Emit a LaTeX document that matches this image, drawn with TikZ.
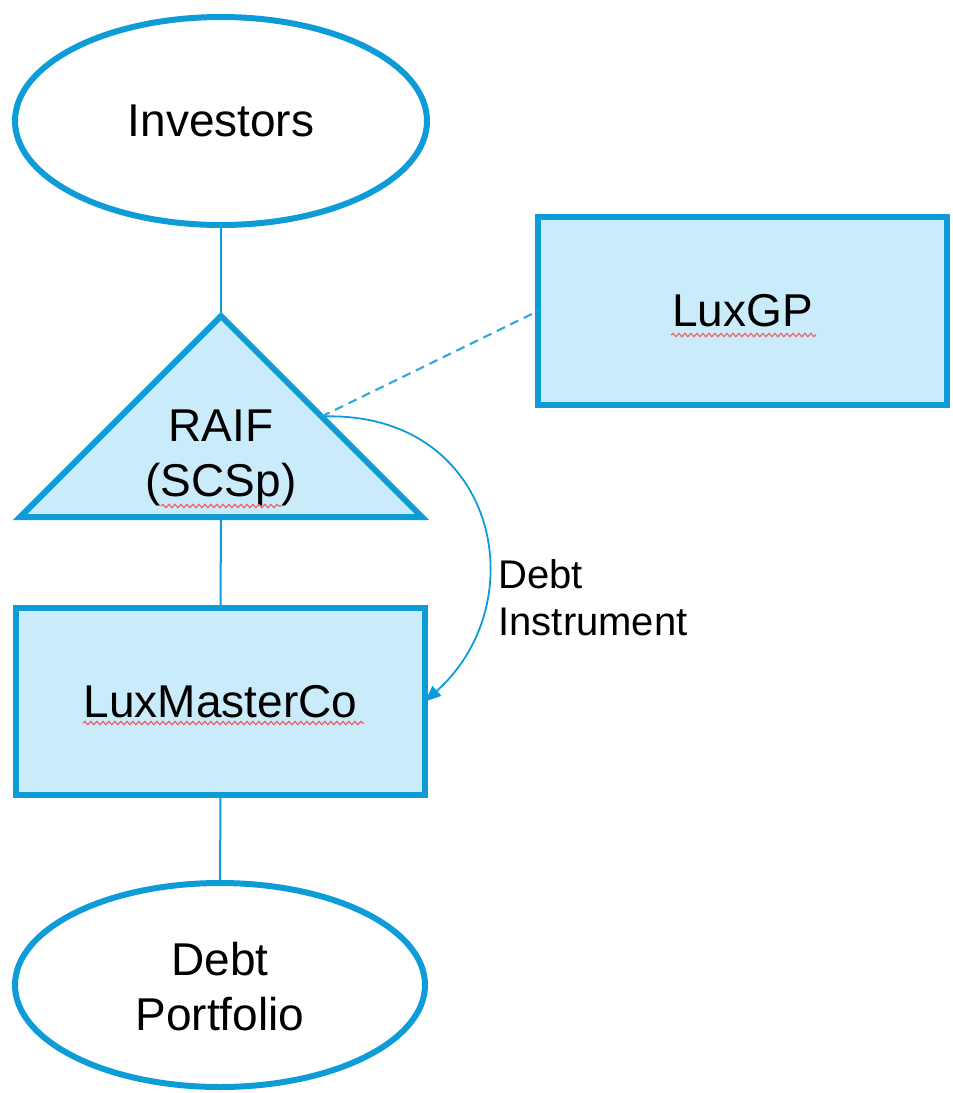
\documentclass[tikz,border=0pt]{standalone}
\usepackage{fontspec}
\setmainfont{Liberation Sans}
\usetikzlibrary{shapes.geometric,arrows.meta,decorations.pathmorphing,calc}
\definecolor{bord}{HTML}{0E9CD8}
\definecolor{fillb}{HTML}{C9EBFA}
\definecolor{squig}{HTML}{F06060}
\tikzset{
  shapeline/.style={draw=bord, line width=6pt, line join=miter},
  oval/.style={shapeline, ellipse, inner sep=0pt, outer sep=0pt, fill=white},
  entbox/.style={shapeline, rectangle, fill=fillb, inner sep=0pt, outer sep=0pt},
  lbl/.style={font=\fontsize{46}{55}\selectfont, align=center, text=black},
  small/.style={font=\fontsize{40}{47}\selectfont, align=left, text=black},
  conn/.style={draw=bord, line width=2pt},
  spell/.style={draw=squig, line width=1.2pt, decorate, decoration={snake, amplitude=1.6pt, segment length=6pt}}
}
\begin{document}
\begin{tikzpicture}[x=1pt,y=-1pt]
\useasboundingbox (0,0) rectangle (953,1093);
% nodes
\node[oval, minimum width=412pt, minimum height=208pt] (inv) at (221,121) {};
\node[lbl] (invt) at (221,121) {Investors};
\node[entbox, minimum width=409pt, minimum height=188pt] (gp) at (742.5,311) {};
\node[lbl] (gpt) at (742.5,311) {LuxGP};
\node[entbox, minimum width=409pt, minimum height=187pt] (mc) at (220.5,701.5) {};
\node[lbl] (mct) at (220.5,701.5) {LuxMasterCo};
\node[oval, minimum width=410pt, minimum height=204pt] (dp) at (220,985) {};
\node[lbl] (dpt) at (220,987) {Debt\\Portfolio};
% triangle
\coordinate (apex) at (221,316);
\coordinate (bl) at (20,517);
\coordinate (br) at (422,517);
\coordinate (basec) at (221,517);
\filldraw[shapeline, fill=fillb] (apex) -- (br) -- (bl) -- cycle;
\node[lbl] (raif) at (221,458) {RAIF\\(SCSp)};
\coordinate (side) at ($(apex)!0.5!(br)$);
% connectors
\draw[conn] (inv.south) -- (apex);
\draw[conn] (basec) -- (mc.north);
\draw[conn] (mc.south) -- (dp.north);
\draw[conn, dash pattern=on 9pt off 6pt, line width=2.2pt, draw=bord!85] (side) -- (gp.west);
\draw[draw=bord, line width=1.8pt, -{Triangle[length=16pt,width=13pt]}]
  (side) .. controls (495,410) and (538,600) .. (mc.east);
\node[small, anchor=west] (di) at (495,598) {Debt\\Instrument};
% spell-check underlines
\draw[spell] (671,335) -- (816,335);
\draw[spell] (161,506) -- (281,506);
\draw[spell] (83,723) -- (364,723);
\end{tikzpicture}
\end{document}
